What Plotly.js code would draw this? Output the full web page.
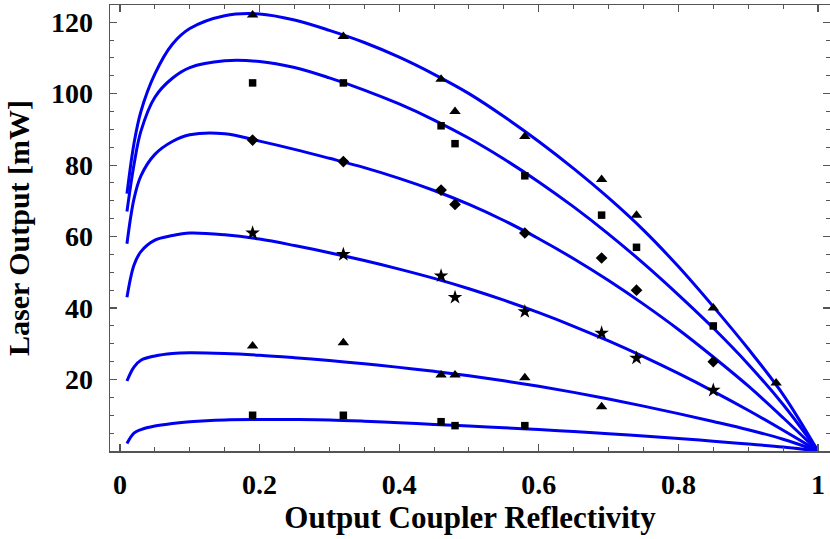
<!DOCTYPE html>
<html>
<head>
<meta charset="utf-8">
<script src="https://cdn.plot.ly/plotly-3.0.1.min.js"></script>
<style>html,body{margin:0;padding:0;background:#fff;}#chart{width:830px;height:539px;}</style>
</head>
<body>
<div id="chart"></div>
<script>
// Fitted curves
var curveX = [0.01, 0.02, 0.03, 0.05, 0.075, 0.1, 0.15, 0.2, 0.25, 0.3, 0.35, 0.4, 0.45, 0.5, 0.55, 0.6, 0.65, 0.7, 0.75, 0.8, 0.85, 0.9, 0.95, 1.0];
var curve1 = [72, 86, 95, 105.5, 113.8, 118.2, 121.8, 122.3, 120.6, 117.7, 114.3, 110.2, 105.4, 100, 93.6, 86.6, 79, 70.8, 61.8, 51.6, 40.4, 28.6, 15.8, 0];
var curve2 = [67, 80, 89.5, 99, 104.3, 107.3, 109.2, 109, 107.3, 104.4, 101, 97.1, 92.6, 87.5, 81.7, 75.3, 68.3, 60.7, 52.5, 43.7, 34.4, 24.3, 13, 0];
var curve3 = [58, 70.5, 77, 83, 86.6, 88.5, 88.8, 86.7, 84.4, 81.9, 79.3, 76.3, 72.9, 69, 64.5, 59.4, 53.8, 47.7, 41.1, 34, 26.3, 18.2, 9.3, 0];
var curve4 = [43, 52, 55.8, 59, 60.3, 61, 60.5, 59.3, 57.5, 55.5, 53.3, 50.9, 48.3, 45.4, 42.2, 38.7, 34.9, 30.8, 26.4, 21.7, 16.7, 11.4, 5.8, 0];
var curve5 = [19.6, 23.5, 25.4, 26.6, 27.3, 27.5, 27.3, 26.8, 26.1, 25.3, 24.4, 23.4, 22.3, 21.05, 19.65, 18.1, 16.4, 14.55, 12.55, 10.45, 8.25, 5.95, 3.3, 0];
var curve6 = [2.1, 5, 6, 7, 7.7, 8.2, 8.7, 8.8, 8.8, 8.7, 8.35, 7.9, 7.45, 7.0, 6.5, 6.0, 5.45, 4.85, 4.2, 3.5, 2.75, 1.95, 1.1, 0];

// Measured points
var x1 = [0.19, 0.32, 0.46, 0.48, 0.58, 0.69, 0.74, 0.85, 0.94];
var y1 = [122, 116, 104, 95, 88, 76, 66, 40, 19];
var x2 = [0.19, 0.32, 0.46, 0.48, 0.58, 0.69, 0.74, 0.85];
var y2 = [103, 103, 91, 86, 77, 66, 57, 35];
var x3 = [0.19, 0.32, 0.46, 0.48, 0.58, 0.69, 0.74, 0.85];
var y3 = [87, 81, 73, 69, 61, 54, 45, 25];
var x4 = [0.19, 0.32, 0.46, 0.48, 0.58, 0.69, 0.74, 0.85];
var y4 = [61, 55, 49, 43, 39, 33, 26, 17];
var x5 = [0.19, 0.32, 0.46, 0.48, 0.58, 0.69];
var y5 = [29.4, 30.3, 21.3, 21.3, 20.5, 12.4];
var x6 = [0.19, 0.32, 0.46, 0.48, 0.58];
var y6 = [10, 10, 8.2, 7.1, 7.1];

var xTickVals = [0, 0.2, 0.4, 0.6, 0.8, 1];
var xTickText = ['0', '0.2', '0.4', '0.6', '0.8', '1'];
var yTickVals = [20, 40, 60, 80, 100, 120];
var yTickText = ['20', '40', '60', '80', '100', '120'];

var lineColor = '#0000f0';
var curves = [curve1, curve2, curve3, curve4, curve5, curve6];
var data = [];
curves.forEach(function (c) {
  data.push({x: curveX, y: c, type: 'scatter', mode: 'lines',
    line: {color: lineColor, width: 3, shape: 'spline', smoothing: 1}, hoverinfo: 'skip'});
});
var pts = [
  [x1, y1, 'triangle-up', 10],
  [x2, y2, 'square', 7.5],
  [x3, y3, 'diamond', 9],
  [x4, y4, 'star', 11],
  [x5, y5, 'triangle-up', 10],
  [x6, y6, 'square', 7.5]
];
pts.forEach(function (p) {
  data.push({x: p[0], y: p[1], type: 'scatter', mode: 'markers',
    marker: {symbol: p[2], size: p[3], color: '#000'}});
});

var font = {family: 'Liberation Serif, Times New Roman, serif', color: '#000', weight: 'bold'};
var axisCommon = {
  showgrid: false, zeroline: false, showline: true, linecolor: '#555', linewidth: 1.5,
  mirror: 'ticks', ticks: 'inside', ticklen: 7, tickwidth: 1.2, tickcolor: '#555',
  tickfont: Object.assign({size: 28}, font)
};
var layout = {
  width: 830, height: 539,
  margin: {l: 110, r: 0, t: 5, b: 88},
  paper_bgcolor: '#fff', plot_bgcolor: '#fff',
  showlegend: false,
  xaxis: Object.assign({}, axisCommon, {
    range: [-0.0143, 1.0172], tickvals: xTickVals, ticktext: xTickText,
    minor: {dtick: 0.05, tick0: 0, ticks: 'inside', ticklen: 4, tickcolor: '#555', tickwidth: 1},
    ticklabelstandoff: 8,
    title: {text: 'Output Coupler Reflectivity', font: Object.assign({size: 31}, font), standoff: 6}
  }),
  yaxis: Object.assign({}, axisCommon, {
    range: [0, 124.8], tickvals: yTickVals, ticktext: yTickText,
    minor: {dtick: 5, tick0: 0, ticks: 'inside', ticklen: 4, tickcolor: '#555', tickwidth: 1},
    ticklabelstandoff: 10,
    title: {text: 'Laser Output [mW]', font: Object.assign({size: 30}, font), standoff: 12}
  })
};
Plotly.newPlot('chart', data, layout, {staticPlot: true, displayModeBar: false});
</script>
</body>
</html>
